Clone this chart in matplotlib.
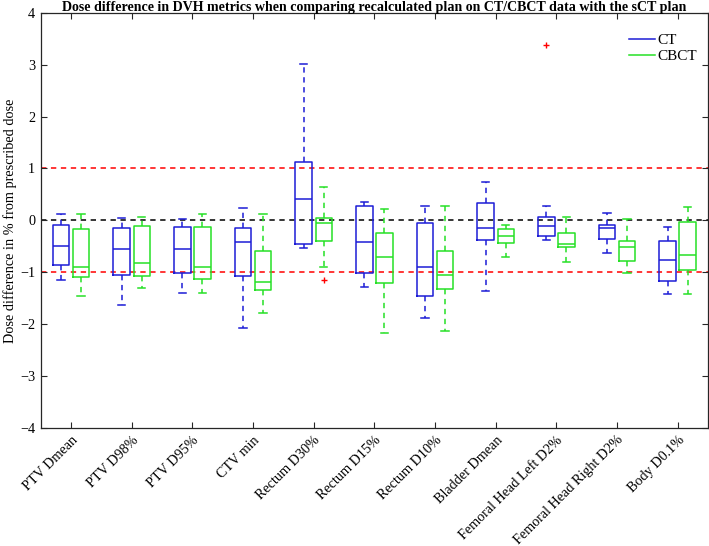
import numpy as np
import matplotlib.pyplot as plt
import matplotlib.transforms as mtransforms

plt.rcParams['font.family'] = ['Liberation Serif', 'DejaVu Serif']

categories = ['PTV Dmean', 'PTV D98%', 'PTV D95%', 'CTV min', 'Rectum D30%',
              'Rectum D15%', 'Rectum D10%', 'Bladder Dmean',
              'Femoral Head Left D2%', 'Femoral Head Right D2%', 'Body D0.1%']

# CT vs sCT: whisker high, q3, median, q1, whisker low
ct_hi = [0.13, 0.04, 0.03, 0.24, 3.02, 0.36, 0.28, 0.74, 0.28, 0.15, -0.12]
ct_q3 = [-0.08, -0.15, -0.13, -0.15, 1.12, 0.27, -0.05, 0.33, 0.07, -0.08, -0.40]
ct_med = [-0.49, -0.56, -0.56, -0.42, 0.42, -0.42, -0.89, -0.15, -0.11, -0.15, -0.76]
ct_q1 = [-0.86, -1.05, -1.01, -1.07, -0.46, -1.02, -1.46, -0.38, -0.30, -0.35, -1.16]
ct_lo = [-1.14, -1.63, -1.39, -2.08, -0.54, -1.28, -1.88, -1.36, -0.37, -0.62, -1.41]
ct_out = [[], [], [], [], [], [], [], [], [3.38], [], []]

# CBCT vs sCT
cbct_hi = [0.13, 0.06, 0.12, 0.12, 0.64, 0.21, 0.27, -0.08, 0.07, 0.03, 0.26]
cbct_q3 = [-0.17, -0.11, -0.12, -0.59, 0.05, -0.24, -0.59, -0.16, -0.25, -0.39, -0.04]
cbct_med = [-0.89, -0.83, -0.89, -1.19, -0.06, -0.71, -1.06, -0.30, -0.46, -0.51, -0.67]
cbct_q1 = [-1.10, -1.08, -1.12, -1.35, -0.39, -1.21, -1.33, -0.44, -0.52, -0.78, -0.96]
cbct_lo = [-1.46, -1.31, -1.40, -1.79, -0.89, -2.17, -2.13, -0.71, -0.80, -1.01, -1.41]
cbct_out = [[], [], [], [], [-1.15], [], [], [], [], [], []]

ref_lines = [1, 0, -1]
ref_colors = ['red', 'black', 'red']

blue = '#1c1cd6'
green = '#26e026'


def make_stats(hi, q3, med, q1, lo, out):
    stats = []
    for i in range(len(med)):
        stats.append({'whishi': hi[i], 'q3': q3[i], 'med': med[i],
                      'q1': q1[i], 'whislo': lo[i], 'fliers': out[i]})
    return stats


def draw_group(ax, stats, positions, color):
    ax.bxp(stats, positions=positions, widths=0.27, capwidths=0.12,
           showfliers=True, manage_ticks=False,
           boxprops=dict(color=color, linewidth=1.1),
           medianprops=dict(color=color, linewidth=1.1),
           whiskerprops=dict(color=color, linewidth=1.1, linestyle=(0, (3.5, 3))),
           capprops=dict(color=color, linewidth=1.1),
           flierprops=dict(marker='+', markeredgecolor='red', markersize=5,
                           markeredgewidth=1.0, linestyle='none'))


fig = plt.figure(figsize=(7.09, 5.46), dpi=100)
ax = fig.add_axes([0.0574, 0.2161, 0.9412, 0.7606])

x = np.arange(1, len(categories) + 1)

for yv, c in zip(ref_lines, ref_colors):
    ax.axhline(yv, color=c, linestyle=(0, (3.5, 3)), linewidth=1.1, zorder=1)

draw_group(ax, make_stats(ct_hi, ct_q3, ct_med, ct_q1, ct_lo, ct_out), x - 0.165, blue)
draw_group(ax, make_stats(cbct_hi, cbct_q3, cbct_med, cbct_q1, cbct_lo, cbct_out), x + 0.165, green)

# Legend handles
ax.plot([], [], color=blue, linewidth=1.1, label='CT')
ax.plot([], [], color=green, linewidth=1.1, label='CBCT')
ax.legend(loc='upper right', frameon=False, fontsize=11, handlelength=1.75,
          handletextpad=0.15, labelspacing=0.15, borderaxespad=0.3,
          bbox_to_anchor=(1.0, 0.975))

ax.set_xlim(0.5, 11.5)
ax.set_ylim(-4, 4)
ax.set_yticks(np.arange(-4, 5, 1))
ax.set_xticks(x)
ax.set_xticklabels(categories, rotation=45, ha='right', rotation_mode='anchor', fontsize=10.2)
offset = mtransforms.ScaledTranslation(6 / 72, 0, fig.dpi_scale_trans)
for lbl in ax.get_xticklabels():
    lbl.set_transform(lbl.get_transform() + offset)

ax.tick_params(direction='in', length=4.5, width=0.8, top=True, right=True,
               labelsize=10.2, color='#262626')
ax.tick_params(axis='y', pad=4)
ax.tick_params(axis='x', pad=4)
for s in ax.spines.values():
    s.set_linewidth(0.9)
    s.set_color('#262626')

ax.set_ylabel('Dose difference in % from prescribed dose', fontsize=10.3, labelpad=2)
ax.set_title('Dose difference in DVH metrics when comparing recalculated plan on CT/CBCT data with the sCT plan',
             fontsize=10.1, fontweight='bold', pad=1)

fig.savefig('out.png', dpi=100)
